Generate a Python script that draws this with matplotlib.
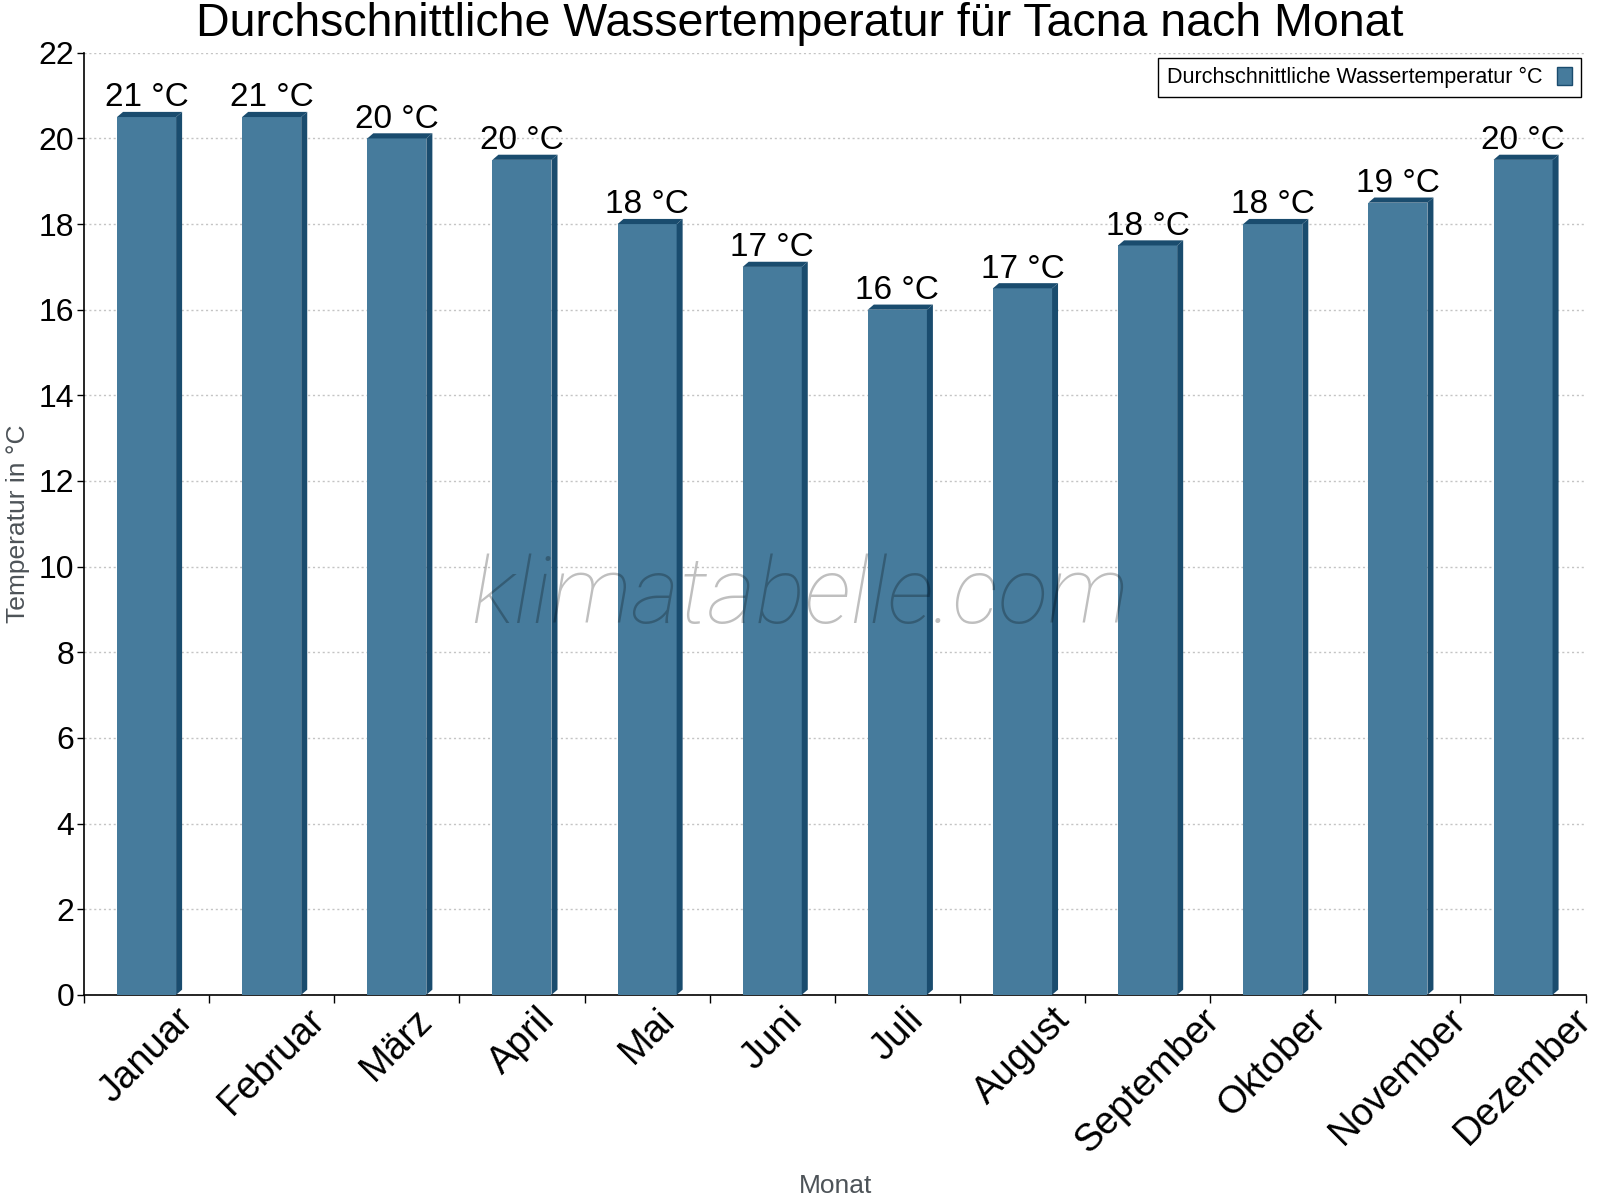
import matplotlib
matplotlib.use("Agg")
import matplotlib.pyplot as plt
from matplotlib.patches import Polygon, Rectangle, Patch
from matplotlib.ticker import MultipleLocator, FixedLocator

plt.rcParams['font.family'] = ['Liberation Sans', 'DejaVu Sans']

months = ["Januar", "Februar", "März", "April", "Mai", "Juni", "Juli",
          "August", "September", "Oktober", "November", "Dezember"]
water_temp = [20.5, 20.5, 20.0, 19.5, 18.0, 17.0, 16.0, 16.5, 17.5, 18.0, 18.5, 19.5]
labels = ["21 °C", "21 °C", "20 °C", "20 °C", "18 °C", "17 °C", "16 °C",
          "17 °C", "18 °C", "18 °C", "19 °C", "20 °C"]

title = "Durchschnittliche Wassertemperatur für Tacna nach Monat"
series_name = "Durchschnittliche Wassertemperatur °C"
ylabel = "Temperatur in °C"
xlabel = "Monat"

FRONT = "#467b9c"
DARK = "#1a4c6e"

fig = plt.figure(figsize=(16, 12), dpi=100)
ax = fig.add_axes([0.0525, 0.171, 0.9385, 0.785])

w = 0.472
dx = 0.048
dy = 0.12
for i, v in enumerate(water_temp):
    x0, x1 = i - w / 2, i + w / 2
    ax.add_patch(Rectangle((x0, 0), w, v, facecolor=FRONT, edgecolor="none", zorder=3))
    ax.add_patch(Polygon([(x1, 0), (x1, v), (x1 + dx, v + dy), (x1 + dx, dy)],
                         closed=True, facecolor=DARK, edgecolor="none", zorder=3))
    ax.add_patch(Polygon([(x0, v), (x0 + dx, v + dy), (x1 + dx, v + dy), (x1, v)],
                         closed=True, facecolor=DARK, edgecolor="none", zorder=3))
    ax.annotate(labels[i], (i, v + dy), xytext=(0, -1), textcoords="offset points",
                ha="center", va="bottom", fontsize=24, color="black", zorder=5)

ax.set_xlim(-0.5, 11.5)
ax.set_ylim(0, 22)
ax.yaxis.set_major_locator(MultipleLocator(2))
ax.set_xticks(range(len(months)))
ax.set_xticklabels(months, rotation=45, ha="center", va="top", fontsize=27.5)
ax.xaxis.set_minor_locator(FixedLocator([i - 0.5 for i in range(len(months) + 1)]))
ax.tick_params(axis="x", which="major", length=0, pad=5)
ax.tick_params(axis="x", which="minor", length=6, width=1, direction="out")
ax.tick_params(axis="y", which="major", length=5, width=1, pad=2, labelsize=23)

for s in ["top", "right"]:
    ax.spines[s].set_visible(False)
for s in ["left", "bottom"]:
    ax.spines[s].set_linewidth(1.2)
    ax.spines[s].set_color("black")

ax.yaxis.grid(True, color="#c4c4c4", linestyle=(0, (1.5, 2)), linewidth=1, zorder=0)
ax.set_axisbelow(True)

ax.set_ylabel(ylabel, fontsize=19, color="#4d5358")
ax.yaxis.set_label_coords(-0.036, 0.5)
fig.text(0.522, 0.002, xlabel, fontsize=19, color="#4d5358", ha="center", va="bottom")

fig.text(0.5, 0.998, title, fontsize=33.5, ha="center", va="top", color="black")

fig.text(0.5, 0.502, "klimatabelle.com", fontsize=67, family="Roboto",
         style="italic", weight="light", color="black", alpha=0.25,
         ha="center", va="center", zorder=10)

handle = Patch(facecolor=FRONT, edgecolor=DARK, linewidth=1)
leg = ax.legend([handle], [series_name], loc="upper right", bbox_to_anchor=(0.997, 0.994),
                borderaxespad=0, markerfirst=False, fancybox=False, framealpha=1,
                edgecolor="black", fontsize=15.5, handlelength=0.7, handleheight=0.9,
                borderpad=0.4, handletextpad=0.7)
leg.get_frame().set_linewidth(1)

fig.savefig("out.png", dpi=100)
